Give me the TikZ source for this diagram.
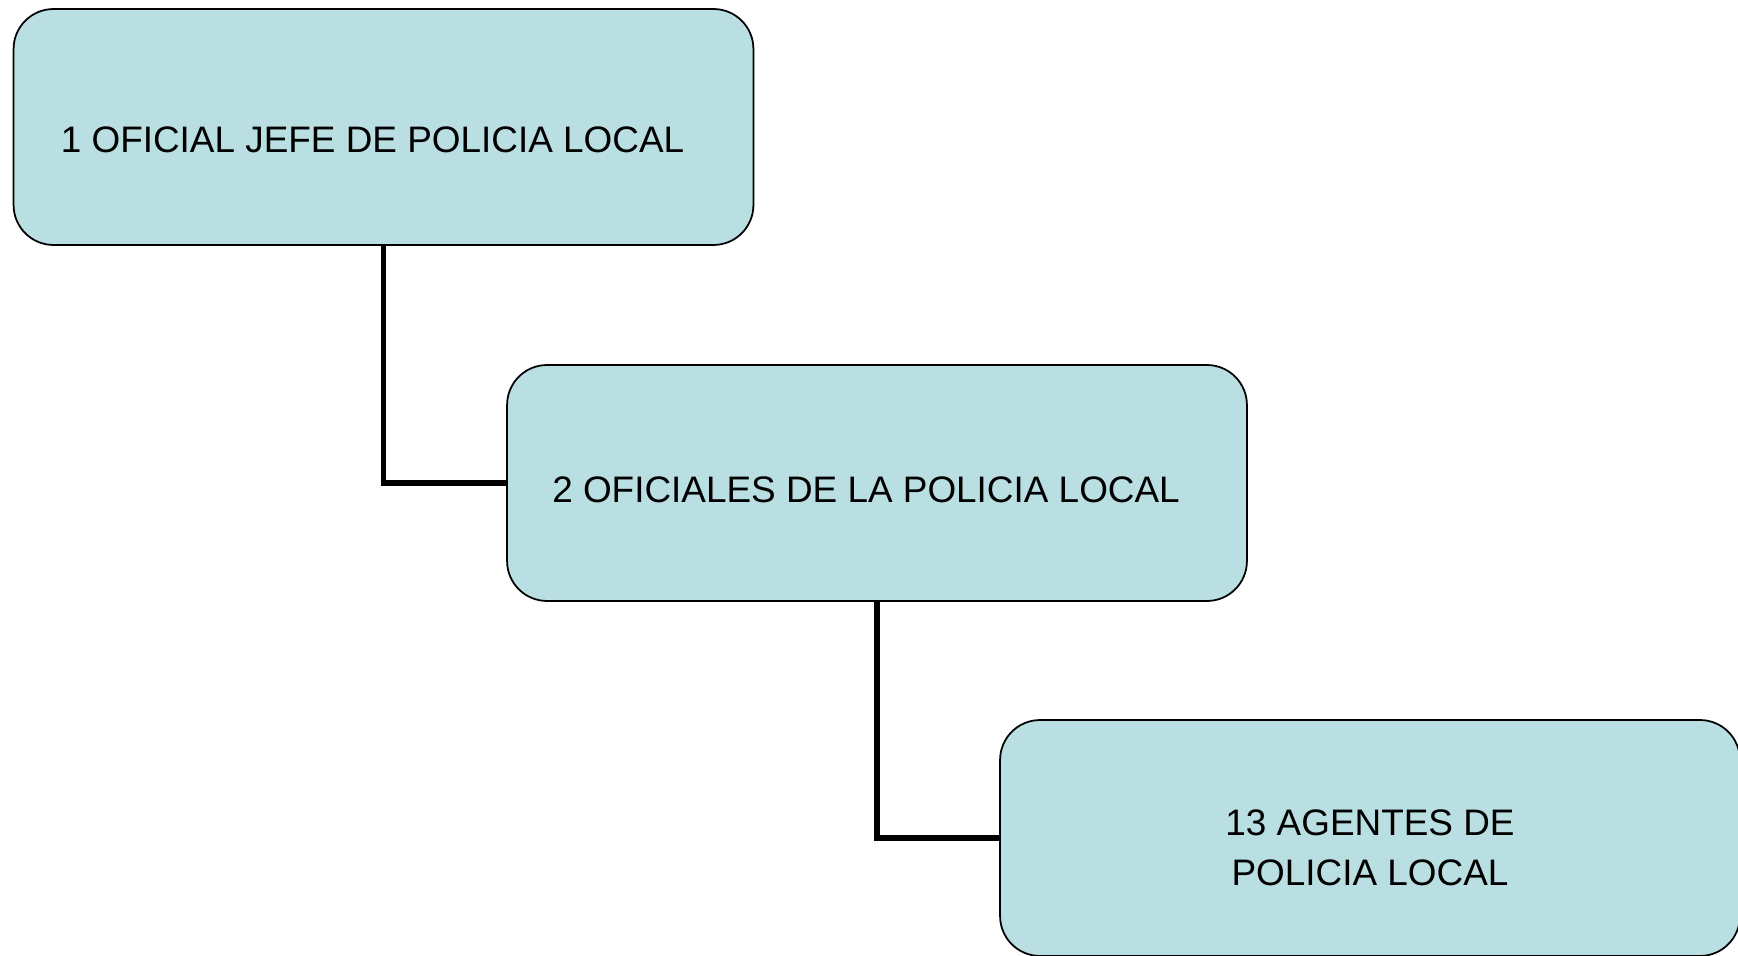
\documentclass[tikz,border=0pt]{standalone}
\usepackage{fontspec}
\setmainfont{Liberation Sans}
\definecolor{boxfill}{RGB}{185,223,227}
\begin{document}
\begin{tikzpicture}[
        x=0.02cm, y=-0.02cm,
        rank/.style={rectangle, draw=black, line width=1pt, fill=boxfill, rounded corners=0.8cm,
            minimum width=14.8cm, minimum height=4.72cm, inner sep=0pt, align=center,
            font=\fontsize{21}{28.5}\selectfont},
        link/.style={line width=3pt}
    ]
        \useasboundingbox (0,0) rectangle (1738,956);

        % Ranks
        \node[rank, text height=29pt] (jefe) at (383.5,127) {1 OFICIAL JEFE DE POLICIA LOCAL\hspace{0.44cm}};
        \node[rank, text height=22pt] (oficiales) at (877,483) {2 OFICIALES DE LA POLICIA LOCAL\hspace{0.44cm}};
        \node[rank, text height=54pt] (agentes) at (1370,838) {13 AGENTES DE\\POLICIA LOCAL};

        % Links
        \draw[link] (jefe.south) |- (oficiales.west);
        \draw[link] (oficiales.south) |- (agentes.west);
    \end{tikzpicture}
\end{document}
